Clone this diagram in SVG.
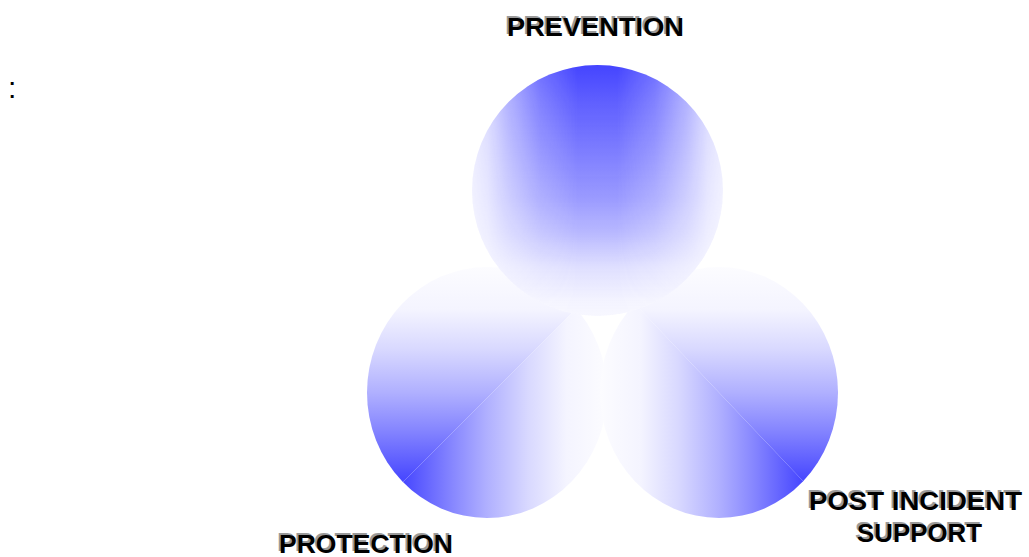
<svg xmlns="http://www.w3.org/2000/svg" width="1029" height="557" viewBox="0 0 1029 557">
<style>
.lbl{font-family:"Liberation Sans",Arial,sans-serif;font-weight:bold;font-size:26px;}
.sh{fill:#9a9a9a;}
.fg{fill:#000000;}
</style>
<defs>
<clipPath id="cTop"><ellipse cx="597.5" cy="190.5" rx="125.5" ry="125.5"/></clipPath>
<clipPath id="cLeft"><ellipse cx="487" cy="392.5" rx="120" ry="125.5"/></clipPath>
<clipPath id="cRight"><ellipse cx="719" cy="392.5" rx="119" ry="125.5"/></clipPath>
<!-- top circle: alpha = vertical * horizontal -->
<linearGradient id="tV" gradientUnits="userSpaceOnUse" x1="0" y1="65" x2="0" y2="316">
<stop offset="0" stop-color="#4444ff" stop-opacity="1"/>
<stop offset="0.139" stop-color="#4444ff" stop-opacity="0.86"/>
<stop offset="0.378" stop-color="#4444ff" stop-opacity="0.66"/>
<stop offset="0.538" stop-color="#4444ff" stop-opacity="0.52"/>
<stop offset="0.67" stop-color="#4444ff" stop-opacity="0.36"/>
<stop offset="0.805" stop-color="#4444ff" stop-opacity="0.15"/>
<stop offset="0.94" stop-color="#4444ff" stop-opacity="0.04"/>
<stop offset="1" stop-color="#4444ff" stop-opacity="0.02"/>
</linearGradient>
<linearGradient id="tH" gradientUnits="userSpaceOnUse" x1="457.5" y1="0" x2="737.5" y2="0">
<stop offset="0" stop-color="#ffffff" stop-opacity="0"/>
<stop offset="0.107" stop-color="#ffffff" stop-opacity="0.2"/>
<stop offset="0.179" stop-color="#ffffff" stop-opacity="0.45"/>
<stop offset="0.296" stop-color="#ffffff" stop-opacity="0.78"/>
<stop offset="0.429" stop-color="#ffffff" stop-opacity="1"/>
<stop offset="0.571" stop-color="#ffffff" stop-opacity="1"/>
<stop offset="0.704" stop-color="#ffffff" stop-opacity="0.78"/>
<stop offset="0.821" stop-color="#ffffff" stop-opacity="0.45"/>
<stop offset="0.893" stop-color="#ffffff" stop-opacity="0.2"/>
<stop offset="1" stop-color="#ffffff" stop-opacity="0"/>
</linearGradient>
<mask id="mTop" maskUnits="userSpaceOnUse" x="460" y="55" width="275" height="270">
<rect x="460" y="55" width="275" height="270" fill="url(#tH)"/>
</mask>
<!-- left circle -->
<linearGradient id="lV" gradientUnits="userSpaceOnUse" x1="0" y1="267" x2="0" y2="518">
<stop offset="0" stop-color="#fcfcff"/><stop offset="0.17" stop-color="#f4f4ff"/><stop offset="0.33" stop-color="#d8d8ff"/><stop offset="0.5" stop-color="#b0b0ff"/><stop offset="0.64" stop-color="#8888ff"/><stop offset="0.84" stop-color="#4a4aff"/><stop offset="1" stop-color="#4444ff"/>
</linearGradient>
<linearGradient id="lH" gradientUnits="userSpaceOnUse" x1="367" y1="0" x2="607" y2="0">
<stop offset="0" stop-color="#4444ff"/><stop offset="0.16" stop-color="#4a4aff"/><stop offset="0.36" stop-color="#8888ff"/><stop offset="0.5" stop-color="#b0b0ff"/><stop offset="0.67" stop-color="#d8d8ff"/><stop offset="0.83" stop-color="#f4f4ff"/><stop offset="1" stop-color="#fcfcff"/>
</linearGradient>
<!-- right circle -->
<linearGradient id="rV" gradientUnits="userSpaceOnUse" x1="0" y1="267" x2="0" y2="518">
<stop offset="0" stop-color="#fcfcff"/><stop offset="0.17" stop-color="#f4f4ff"/><stop offset="0.33" stop-color="#d8d8ff"/><stop offset="0.5" stop-color="#b0b0ff"/><stop offset="0.64" stop-color="#8888ff"/><stop offset="0.84" stop-color="#4a4aff"/><stop offset="1" stop-color="#4444ff"/>
</linearGradient>
<linearGradient id="rH" gradientUnits="userSpaceOnUse" x1="600" y1="0" x2="838" y2="0">
<stop offset="0" stop-color="#fcfcff"/><stop offset="0.17" stop-color="#f4f4ff"/><stop offset="0.33" stop-color="#d8d8ff"/><stop offset="0.5" stop-color="#b0b0ff"/><stop offset="0.64" stop-color="#8888ff"/><stop offset="0.84" stop-color="#4a4aff"/><stop offset="1" stop-color="#4444ff"/>
</linearGradient>
</defs>
<rect width="1029" height="557" fill="#ffffff"/>
<text class="fg" x="8" y="98" style="font-family:'Liberation Sans',Arial,sans-serif;font-size:30px">:</text>
<g id="protection">
<g clip-path="url(#cLeft)">
<polygon points="365,266 619,266 365,520" fill="url(#lV)"/>
<polygon points="619,266 619,520 365,520" fill="url(#lH)"/>
</g>
<text class="lbl sh" x="277" y="551" textLength="174" lengthAdjust="spacingAndGlyphs">PROTECTION</text>
<text class="lbl fg" x="279" y="553" textLength="174" lengthAdjust="spacingAndGlyphs">PROTECTION</text>
</g>
<g id="post-incident-support">
<g clip-path="url(#cRight)">
<polygon points="599,266 599,520 840,520" fill="url(#rH)"/>
<polygon points="599,266 841,266 841,520 840,520" fill="url(#rV)"/>
</g>
<text class="lbl sh" x="807" y="508" textLength="213" lengthAdjust="spacingAndGlyphs">POST INCIDENT</text>
<text class="lbl fg" x="809" y="510" textLength="213" lengthAdjust="spacingAndGlyphs">POST INCIDENT</text>
<text class="lbl sh" x="855" y="540" textLength="125" lengthAdjust="spacingAndGlyphs">SUPPORT</text>
<text class="lbl fg" x="857" y="542" textLength="125" lengthAdjust="spacingAndGlyphs">SUPPORT</text>
</g>
<g id="prevention">
<g clip-path="url(#cTop)">
<rect x="470" y="63" width="256" height="256" fill="#fbfbff"/>
<rect x="460" y="55" width="275" height="270" fill="url(#tV)" mask="url(#mTop)"/>
</g>
<text class="lbl sh" x="505" y="34" textLength="177" lengthAdjust="spacingAndGlyphs">PREVENTION</text>
<text class="lbl fg" x="507" y="36" textLength="177" lengthAdjust="spacingAndGlyphs">PREVENTION</text>
</g>
<g id="connectors"></g>
</svg>
